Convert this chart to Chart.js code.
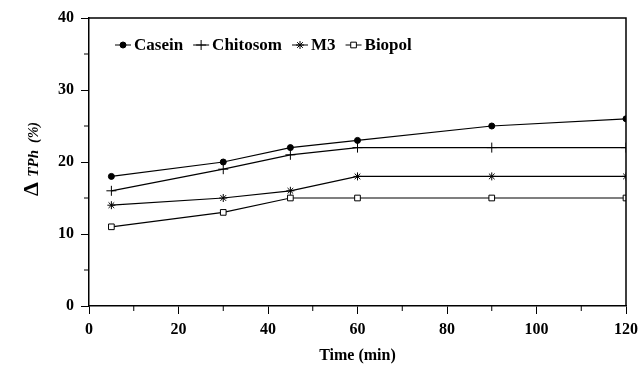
<!DOCTYPE html>
<html>
<head>
<meta charset="utf-8">
<script src="https://cdn.jsdelivr.net/npm/chart.js@4"></script>
<style>
  body { margin: 0; background: #fff; }
  #wrap { width: 640px; height: 369px; }
</style>
</head>
<body>
<div id="wrap"><canvas id="chart" width="640" height="369"></canvas></div>
<script>
var times = [5, 30, 45, 60, 90, 120];
var casein = [18, 20, 22, 23, 25, 26];
var chitosom = [16, 19, 21, 22, 22, 22];
var m3 = [14, 15, 16, 18, 18, 18];
var biopol = [11, 13, 15, 15, 15, 15];
var seriesNames = ["Casein", "Chitosom", "M3", "Biopol"];
var yTicks = [0, 10, 20, 30, 40];
var xTicks = [0, 20, 40, 60, 80, 100, 120];

var serif = "'Liberation Serif', 'DejaVu Serif', serif";

function toPoints(vals) {
    return vals.map(function (v, i) { return { x: times[i], y: v }; });
}

function makeSet(name, vals, style, fill, radius) {
    return {
        label: name,
        data: toPoints(vals),
        borderColor: "#000",
        borderWidth: 1.2,
        pointStyle: style,
        pointRadius: radius,
        pointBackgroundColor: fill,
        pointBorderColor: "#000",
        pointBorderWidth: 1,
        tension: 0
    };
}

// frame, minor ticks, legend and y title
var decor = {
    id: "decor",
    afterDraw: function (chart) {
        var ctx = chart.ctx;
        var a = chart.chartArea;
        var xs = chart.scales.x, ys = chart.scales.y;
        ctx.save();
        ctx.strokeStyle = "#000";
        ctx.lineWidth = 1.5;
        ctx.beginPath();
        ctx.moveTo(a.left, a.top);
        ctx.lineTo(a.right, a.top);
        ctx.lineTo(a.right, a.bottom);
        ctx.stroke();
        // minor ticks
        ctx.lineWidth = 1;
        for (var v = 5; v < 40; v += 10) {
            var py = ys.getPixelForValue(v);
            ctx.beginPath(); ctx.moveTo(a.left - 5, py); ctx.lineTo(a.left, py); ctx.stroke();
        }
        for (var t = 10; t < 120; t += 20) {
            var px = xs.getPixelForValue(t);
            ctx.beginPath(); ctx.moveTo(px, a.bottom); ctx.lineTo(px, a.bottom + 5); ctx.stroke();
        }
        // legend
        ctx.font = "bold 17px " + serif;
        ctx.textBaseline = "middle";
        var lx = a.left + 26, ly = a.top + 27;
        chart.data.datasets.forEach(function (ds) {
            ctx.beginPath(); ctx.moveTo(lx, ly); ctx.lineTo(lx + 16, ly); ctx.stroke();
            ctx.fillStyle = ds.pointBackgroundColor;
            Chart.helpers.drawPoint(ctx, {
                pointStyle: ds.pointStyle, radius: ds.pointRadius, borderWidth: 1
            }, lx + 8, ly);
            ctx.fillStyle = "#000";
            ctx.fillText(ds.label, lx + 19, ly + 1);
            lx += 19 + ctx.measureText(ds.label).width + 10;
        });
        // y title
        ctx.translate(30, (a.top + a.bottom) / 2 - 3);
        ctx.rotate(-Math.PI / 2);
        ctx.textAlign = "left";
        ctx.textBaseline = "alphabetic";
        var parts = [["bold 22px " + serif, "\u0394 "], ["italic bold 15px " + serif, "TPh"], ["italic bold 14px " + serif, "  (%)"]];
        var w = 0;
        parts.forEach(function (p) { ctx.font = p[0]; w += ctx.measureText(p[1]).width; });
        var sx = -w / 2;
        parts.forEach(function (p) {
            ctx.font = p[0];
            ctx.fillText(p[1], sx, 8);
            sx += ctx.measureText(p[1]).width;
        });
        ctx.restore();
    }
};

new Chart(document.getElementById("chart"), {
    type: "line",
    data: {
        datasets: [
            makeSet(seriesNames[0], casein, "circle", "#000", 3),
            makeSet(seriesNames[1], chitosom, "cross", "#000", 5),
            makeSet(seriesNames[2], m3, "star", "#000", 4),
            makeSet(seriesNames[3], biopol, "rect", "#fff", 4)
        ]
    },
    options: {
        responsive: false,
        animation: false,
        layout: { padding: { top: 18, right: 14, left: 0, bottom: 0 } },
        plugins: { legend: { display: false }, tooltip: { enabled: false } },
        scales: {
            x: {
                type: "linear", min: 0, max: 120,
                afterBuildTicks: function (s) { s.ticks = xTicks.map(function (v) { return { value: v }; }); },
                afterFit: function (s) { s.height = 63; s.paddingRight = 0; s.paddingLeft = 0; },
                grid: { drawOnChartArea: false, tickLength: 8, tickColor: "#000" },
                border: { color: "#000", width: 1.5 },
                ticks: { color: "#000", font: { family: serif, size: 16, weight: "bold" }, padding: 6, maxRotation: 0 },
                title: { display: true, text: "Time (min)", color: "#000", font: { family: serif, size: 16, weight: "bold" }, padding: { top: 4 } }
            },
            y: {
                min: 0, max: 40,
                afterBuildTicks: function (s) { s.ticks = yTicks.map(function (v) { return { value: v }; }); },
                afterFit: function (s) { s.width = 89; s.paddingTop = 0; s.paddingBottom = 0; },
                grid: { drawOnChartArea: false, tickLength: 8, tickColor: "#000" },
                border: { color: "#000", width: 1.5 },
                ticks: { color: "#000", font: { family: serif, size: 16, weight: "bold" }, padding: 7 }
            }
        }
    },
    plugins: [decor]
});
</script>
</body>
</html>
